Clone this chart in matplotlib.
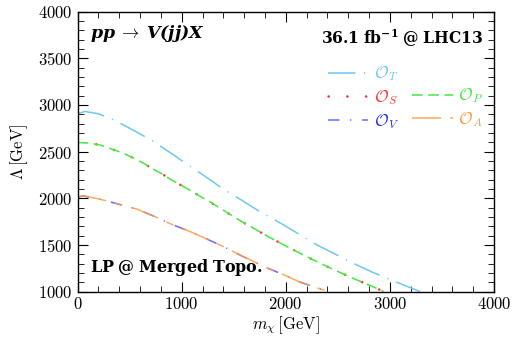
import matplotlib
matplotlib.use("Agg")
import matplotlib.pyplot as plt
from matplotlib.lines import Line2D
from matplotlib.ticker import MultipleLocator

plt.rcParams["font.family"] = "serif"
plt.rcParams["font.serif"] = ["cmr10", "DejaVu Serif"]
plt.rcParams["mathtext.fontset"] = "cm"
plt.rcParams["axes.formatter.use_mathtext"] = True
plt.rcParams["font.size"] = 12
# bold fonts for the annotation boxes (used via math_fontfamily="custom")
plt.rcParams["mathtext.rm"] = "cmr10"
plt.rcParams["mathtext.bf"] = "DejaVu Serif:bold"
plt.rcParams["mathtext.it"] = "cmmi10"
plt.rcParams["mathtext.bfit"] = "DejaVu Serif:italic:bold"

# exclusion limits on the cutoff scale Lambda vs dark-matter mass
m_T = [0, 70, 200, 360, 570, 730, 920, 1060, 1260, 1400, 1560, 1750, 1960,
       2110, 2310, 2470, 2680, 2840, 3050, 3290]
lam_T = [2905, 2930, 2905, 2833, 2708, 2608, 2465, 2358, 2208, 2097, 1990,
         1857, 1726, 1626, 1493, 1404, 1286, 1204, 1107, 1000]

m_SP = [0, 120, 220, 330, 420, 520, 620, 710, 810, 900, 1000, 1090, 1190,
        1280, 1380, 1460, 1560, 1650, 1840, 2040, 2230, 2430, 2620, 2820, 2940]
lam_SP = [2597, 2590, 2569, 2526, 2490, 2440, 2383, 2322, 2261, 2197, 2136,
          2079, 2012, 1954, 1886, 1830, 1761, 1704, 1583, 1465, 1358, 1251,
          1154, 1061, 1000]

m_VA = [0, 50, 200, 360, 570, 740, 900, 1080, 1260, 1420, 1580, 1790, 1980,
        2140, 2410]
lam_VA = [2012, 2025, 1994, 1947, 1883, 1804, 1722, 1643, 1554, 1472, 1380,
          1268, 1179, 1100, 1000]

c_T = "#6cc8f2"
c_S = "#ff3030"
c_P = "#44e844"
c_V = "#2a2aff"
c_A = "#ff9a40"

fig = plt.figure(figsize=(5.14, 3.41), dpi=100)
ax = fig.add_axes([0.151, 0.145, 0.810, 0.821])

lT, = ax.plot(m_T, lam_T, color=c_T, lw=1.1, dashes=(18, 5.5, 0.8, 5.5))
lS, = ax.plot(m_SP, lam_SP, color=c_S, lw=1.8, linestyle=(0, (0.1, 7.4)),
              dash_capstyle="round")
lP, = ax.plot(m_SP, lam_SP, color=c_P, lw=1.1, dashes=(7, 3.6))
lV, = ax.plot(m_VA, lam_VA, color=c_V, lw=1.1, alpha=0.7,
              dashes=(7.5, 7, 0.8, 7))
lA, = ax.plot(m_VA, lam_VA, color=c_A, lw=1.1, alpha=0.85,
              dashes=(19, 6, 5, 6))

blank = Line2D([], [], linestyle="none")
handles = [lT, lS, lV, blank, lP, lA]
labels = [r"$\mathcal{O}_T$", r"$\mathcal{O}_S$", r"$\mathcal{O}_V$", "",
          r"$\mathcal{O}_P$", r"$\mathcal{O}_A$"]
leg = ax.legend(handles, labels, ncol=2, loc="upper right",
                bbox_to_anchor=(0.99, 0.835), frameon=False, fontsize=12,
                handlelength=2.45, handletextpad=0.35, columnspacing=0.75,
                labelspacing=0.3, borderaxespad=0.0)
for txt, col in zip(leg.get_texts(), [c_T, c_S, c_V, "w", c_P, c_A]):
    txt.set_color(col)

ax.text(0.03, 0.92, r"$\mathbfit{pp}\;\rightarrow\;\mathbfit{V(jj)X}$",
        transform=ax.transAxes, fontsize=12.5, va="center", ha="left",
        math_fontfamily="custom")
ax.text(0.975, 0.906, r"$\mathbf{36.1\ fb^{-1}\ @\ LHC13}$",
        transform=ax.transAxes, fontsize=11.2, va="center", ha="right",
        math_fontfamily="custom")
ax.text(0.03, 0.085, r"$\mathbf{LP\ @\ Merged\ Topo.}$", transform=ax.transAxes,
        fontsize=11.5, va="center", ha="left", math_fontfamily="custom")

ax.set_xlim(0, 4000)
ax.set_ylim(1000, 4000)
ax.xaxis.set_major_locator(MultipleLocator(1000))
ax.xaxis.set_minor_locator(MultipleLocator(200))
ax.yaxis.set_major_locator(MultipleLocator(500))
ax.yaxis.set_minor_locator(MultipleLocator(100))
ax.tick_params(which="both", direction="in", top=True, right=True,
               labelsize=12)
ax.tick_params(which="major", length=7.5, width=0.8)
ax.tick_params(which="minor", length=4.5, width=0.6)
for sp in ax.spines.values():
    sp.set_linewidth(1.0)
ax.set_xlabel(r"$m_\chi\,[\mathrm{GeV}]$", fontsize=12, labelpad=1)
ax.set_ylabel(r"$\Lambda\,[\mathrm{GeV}]$", fontsize=12, labelpad=6)

fig.savefig("out.png", dpi=100)
